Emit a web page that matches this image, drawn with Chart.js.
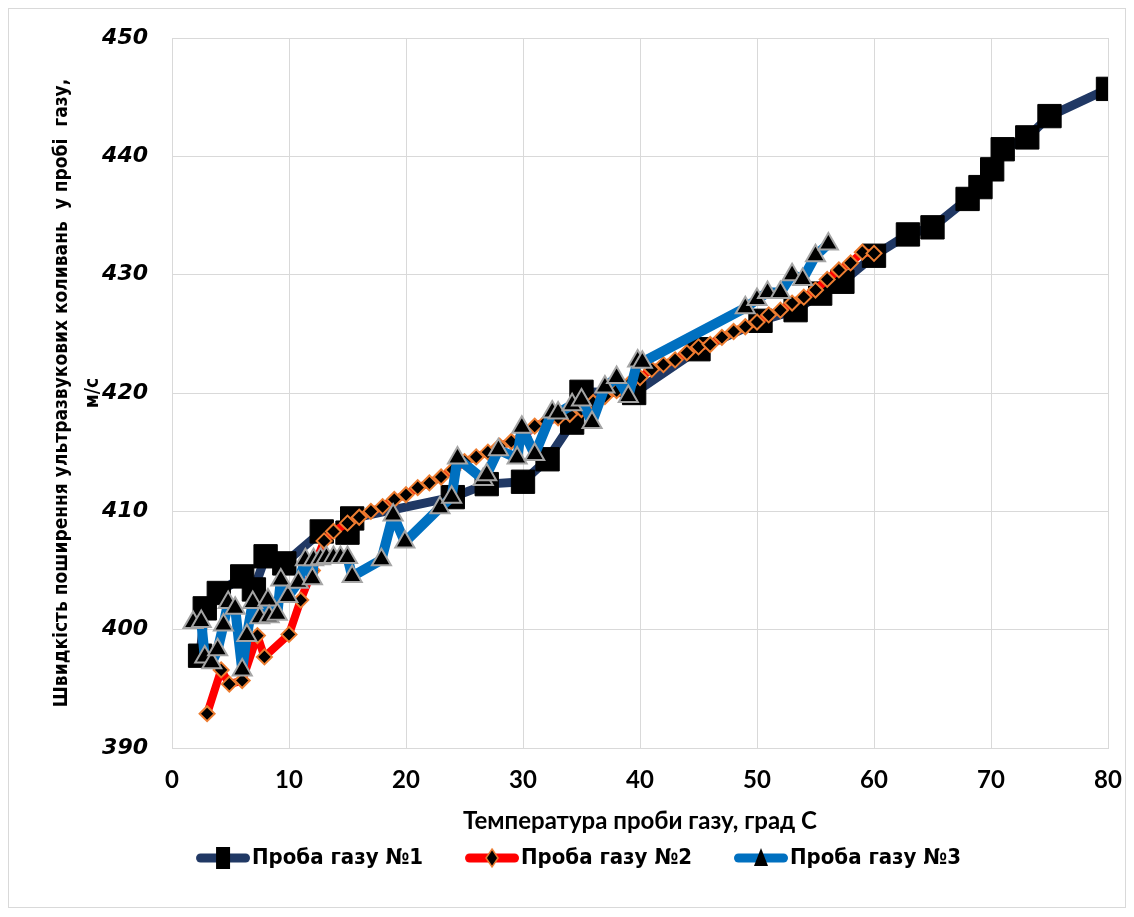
<!DOCTYPE html>
<html>
<head>
<meta charset="utf-8">
<script src="https://cdn.jsdelivr.net/npm/chart.js@4.4.0/dist/chart.umd.min.js"></script>
<style>
  html, body { margin: 0; padding: 0; background: #fff; }
  #wrap { position: relative; width: 1134px; height: 917px; }
</style>
</head>
<body>
<div id="wrap"><canvas id="chart" width="1134" height="917"></canvas></div>
<script>
// Проба газу №1 (temperature, speed)
const gas1T = [2.4, 2.8, 4.0, 6.0, 7.0, 8.0, 9.6, 12.8, 15.0, 15.4, 24.0, 26.9, 30.0, 32.1, 34.2, 35.0,
  39.5, 45.0, 50.3, 53.3, 55.4, 57.3, 60.0, 62.9, 65.0, 68.0, 69.1, 70.1, 71.0, 73.1, 75.0, 80.0];
const gas1V = [397.8, 401.8, 403.1, 404.5, 403.4, 406.2, 405.6, 408.3, 408.2, 409.4, 411.2, 412.3, 412.5, 414.4, 417.5, 420.1,
  420.0, 423.7, 426.1, 427.0, 428.4, 429.4, 431.6, 433.4, 434.0, 436.4, 437.4, 438.9, 440.6, 441.6, 443.4, 445.7];

// Проба газу №2
const gas2T = [3.0, 4.2, 4.9, 6.0, 7.3, 7.9, 10.0, 11.0, 12.0, 13.0, 13.8, 15, 16, 17, 18, 19, 20, 21, 22, 23, 24,
  25, 26, 27, 28, 29, 30, 31, 32, 33, 34, 35, 36, 37, 38, 39, 40, 41, 42, 43, 44, 45, 46, 47, 48, 49, 50,
  51, 52, 53, 54, 55, 56, 57, 58, 59, 60];
const gas2V = [392.9, 396.6, 395.4, 395.7, 399.5, 397.7, 399.6, 402.5, 405.0, 407.5, 408.3, 409.0, 409.5, 410.0, 410.4, 411.0, 411.4, 412.0, 412.4, 412.9, 413.5,
  414.2, 414.6, 415.0, 415.5, 415.9, 416.3, 417.2, 417.6, 417.9, 418.2, 418.6, 419.2, 419.7, 420.2, 420.7, 421.3, 422.0, 422.4, 422.8, 423.4, 423.9, 424.1, 424.7, 425.2, 425.6, 426.0,
  426.6, 427.0, 427.6, 428.1, 428.7, 429.6, 430.4, 431.0, 431.9, 431.8];

// Проба газу №3
const gas3T = [1.8, 2.5, 2.8, 3.4, 3.9, 4.4, 4.8, 5.4, 6.0, 6.4, 6.9, 7.5, 8.2, 8.3, 9.0, 9.3, 9.9, 10.8, 11.4, 12.0,
  12.1, 12.7, 13.2, 13.8, 14.4, 15.0, 15.4, 17.9, 18.9, 19.9, 22.9, 23.9, 24.4, 26.6, 26.9, 27.9, 29.5, 29.9, 31.0,
  32.5, 33.0, 34.2, 35.0, 35.9, 37.0, 38.0, 39.0, 39.8, 40.2, 49.0, 50.0, 50.9, 52.0, 53.0, 53.9, 55.0, 56.1];
const gas3V = [400.6, 400.7, 397.7, 397.2, 398.3, 400.4, 402.3, 401.8, 396.6, 399.5, 402.3, 401.0, 402.5, 401.1, 401.3, 404.2, 402.8, 404.0, 405.9, 404.3,
  405.9, 406.0, 406.1, 406.1, 406.1, 406.1, 404.5, 405.9, 409.7, 407.4, 410.3, 411.2, 414.5, 412.7, 413.1, 415.2, 414.5, 417.1, 414.8,
  418.4, 418.3, 419.0, 419.4, 417.5, 420.5, 421.3, 419.7, 422.7, 422.6, 427.2, 427.9, 428.5, 428.5, 430.0, 429.6, 431.6, 432.6];

const seriesNames = ['Проба газу №1', 'Проба газу №2', 'Проба газу №3'];
const xTitle = 'Температура проби газу, град С';
const yTitle = ['Швидкість поширення ультразвукових коливань  у пробі  газу,', 'м/с'];

const narrow = "'Liberation Sans Narrow', 'DejaVu Sans Condensed', sans-serif";

function toPoints(xs, ys) {
  return xs.map((x, i) => ({ x: x, y: ys[i] }));
}

// legend icon: line with the marker in the middle
function legendIcon(lineColor, lineWidth, drawMarker) {
  const c = document.createElement('canvas');
  c.width = 90;
  c.height = 30;
  const g = c.getContext('2d');
  g.strokeStyle = lineColor;
  g.lineWidth = lineWidth;
  g.lineCap = 'round';
  g.beginPath();
  g.moveTo(36 + lineWidth / 2, 15);
  g.lineTo(90 - lineWidth / 2, 15);
  g.stroke();
  drawMarker(g, 63, 15);
  return c;
}

const icon1 = legendIcon('#203864', 9, (g, x, y) => {
  g.fillStyle = '#000';
  g.fillRect(x - 7, y - 11, 14, 22);
});
const icon2 = legendIcon('#ff0000', 9, (g, x, y) => {
  g.beginPath();
  g.moveTo(x, y - 9); g.lineTo(x + 6, y); g.lineTo(x, y + 9); g.lineTo(x - 6, y); g.closePath();
  g.fillStyle = '#000'; g.fill();
  g.strokeStyle = '#ed7d31'; g.lineWidth = 1.5; g.stroke();
});
const icon3 = legendIcon('#0070c0', 9, (g, x, y) => {
  g.beginPath();
  g.moveTo(x, y - 10); g.lineTo(x + 7, y + 8); g.lineTo(x - 7, y + 8); g.closePath();
  g.fillStyle = '#000'; g.fill();
});
const icons = [icon1, icon2, icon3];

const frame = {
  id: 'frame',
  beforeDraw(chart) {
    const g = chart.ctx;
    g.save();
    g.fillStyle = '#fff';
    g.fillRect(0, 0, chart.width, chart.height);
    g.strokeStyle = '#d9d9d9';
    g.lineWidth = 1;
    g.strokeRect(8.5, 8.5, 1117, 899);
    g.restore();
  },
  // nudge the legend row a little right and up, as in the original
  afterLayout(chart) {
    const lg = chart.legend;
    lg.left += 11; lg.right += 11;
    lg.top -= 8; lg.bottom -= 8;
  }
};

const ctx = document.getElementById('chart').getContext('2d');
new Chart(ctx, {
  type: 'scatter',
  data: {
    datasets: [
      {
        label: seriesNames[0],
        data: toPoints(gas1T, gas1V),
        showLine: true,
        order: 3,
        borderColor: '#203864',
        borderWidth: 9,
        borderJoinStyle: 'round',
        borderCapStyle: 'round',
        pointStyle: 'rect',
        pointRadius: 16.5,
        pointBackgroundColor: '#000',
        pointBorderColor: '#000',
        pointBorderWidth: 1
      },
      {
        label: seriesNames[1],
        data: toPoints(gas2T, gas2V),
        showLine: true,
        order: 2,
        borderColor: '#ff0000',
        borderWidth: 8,
        borderJoinStyle: 'round',
        borderCapStyle: 'round',
        pointStyle: 'rectRot',
        pointRadius: 7.5,
        pointBackgroundColor: '#000',
        pointBorderColor: '#ed7d31',
        pointBorderWidth: 2
      },
      {
        label: seriesNames[2],
        data: toPoints(gas3T, gas3V),
        showLine: true,
        order: 1,
        borderColor: '#0070c0',
        borderWidth: 10,
        borderJoinStyle: 'round',
        borderCapStyle: 'round',
        pointStyle: 'triangle',
        pointRadius: 11,
        pointBackgroundColor: '#000',
        pointBorderColor: '#a5a5a5',
        pointBorderWidth: 2
      }
    ]
  },
  options: {
    responsive: false,
    animation: false,
    devicePixelRatio: 1,
    layout: { padding: { left: 0, right: 26, top: 38, bottom: 30 } },
    plugins: {
      tooltip: { enabled: false },
      legend: {
        position: 'bottom',
        labels: {
          usePointStyle: true,
          pointStyleWidth: 72,
          padding: 15,
          color: '#000',
          font: { family: narrow, size: 22, weight: 'bold' },
          generateLabels(chart) {
            return chart.data.datasets.map((ds, i) => ({
              text: ds.label,
              pointStyle: icons[i],
              fontColor: '#000',
              lineWidth: 0,
              strokeStyle: 'transparent',
              fillStyle: 'transparent',
              datasetIndex: i
            }));
          }
        }
      }
    },
    scales: {
      x: {
        type: 'linear',
        min: 0,
        max: 80,
        ticks: {
          stepSize: 10,
          padding: 2,
          color: '#000',
          font: { family: 'Lato', size: 24, weight: 'bold' }
        },
        grid: { color: '#d9d9d9', drawTicks: true, tickLength: 16, tickColor: 'rgba(0,0,0,0)' },
        border: { color: '#d9d9d9' },
        title: {
          display: true,
          text: xTitle,
          color: '#000',
          padding: { top: 0, bottom: 4 },
          font: { family: 'Lato', size: 24, weight: 'bold' }
        },
        afterFit(scale) { scale.height = 92; }
      },
      y: {
        min: 390,
        max: 450,
        ticks: {
          stepSize: 10,
          padding: 24,
          color: '#000',
          font: { family: 'DejaVu Sans', size: 22, weight: 'bold', style: 'italic' }
        },
        grid: { color: '#d9d9d9', drawTicks: false },
        border: { color: '#d9d9d9' },
        title: {
          display: true,
          text: yTitle,
          color: '#000',
          padding: { top: 47, bottom: 0 },
          font: { family: narrow, size: 19, weight: 'bold', lineHeight: 1.6 }
        },
        afterFit(scale) { scale.width = 172; }
      }
    }
  },
  plugins: [frame]
});
</script>
</body>
</html>
